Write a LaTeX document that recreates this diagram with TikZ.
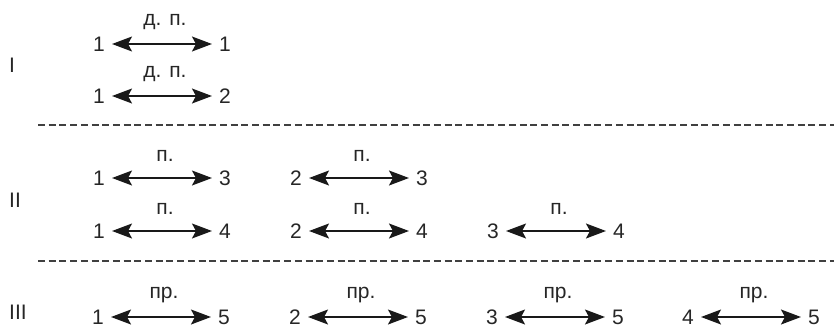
\documentclass[tikz,border=0pt]{standalone}
\usepackage{fontspec}
\setmainfont{Liberation Sans}
\usetikzlibrary{arrows.meta}
\begin{document}
\begin{tikzpicture}[x=1pt,y=-1pt,
  every node/.style={font=\fontsize{21}{24}\selectfont, text=black!85},
  num/.style={inner xsep=7pt, inner ysep=0pt},
  lbl/.style={inner sep=0pt},
  roman/.style={inner sep=0pt, anchor=west},
  biarrow/.style={line width=1.3pt, draw=black!90,
    {Stealth[length=20pt,width=15pt,inset=4pt]}-{Stealth[length=20pt,width=15pt,inset=4pt]}},
  sep/.style={line width=1.3pt, draw=black!75, dash pattern=on 7pt off 3.7pt}]
\useasboundingbox (0,0) rectangle (834,329);

% one relation: left number, double arrow, right number, label above
\newcommand{\relpair}[6]{%
  \node[num] (#1l) at (#2,#3) {#4};
  \node[num] (#1r) at (#2+126,#3) {#5};
  \draw[biarrow] (#1l) -- (#1r);
  \node[lbl] (#1t) at (#2+66,#3-22) {#6};
}

% group I
\node[roman] (rI) at (9,65) {I};
\relpair{a}{99}{44}{1}{1}{д. п.}
\relpair{b}{99}{96}{1}{2}{д. п.}

\coordinate (s1a) at (38,125);
\coordinate (s1b) at (834,125);
\draw[sep] (s1a) -- (s1b);

% group II
\node[roman] (rII) at (9,200) {II};
\relpair{c}{99}{178}{1}{3}{п.}
\relpair{d}{296}{178}{2}{3}{п.}
\relpair{e}{99}{231}{1}{4}{п.}
\relpair{f}{296}{231}{2}{4}{п.}
\relpair{g}{493}{231}{3}{4}{п.}

\coordinate (s2a) at (38,261);
\coordinate (s2b) at (834,261);
\draw[sep] (s2a) -- (s2b);

% group III
\node[roman] (rIII) at (9,312) {III};
\relpair{h}{98}{317}{1}{5}{пр.}
\relpair{i}{295}{317}{2}{5}{пр.}
\relpair{j}{492}{317}{3}{5}{пр.}
\relpair{k}{688}{317}{4}{5}{пр.}
\end{tikzpicture}
\end{document}
